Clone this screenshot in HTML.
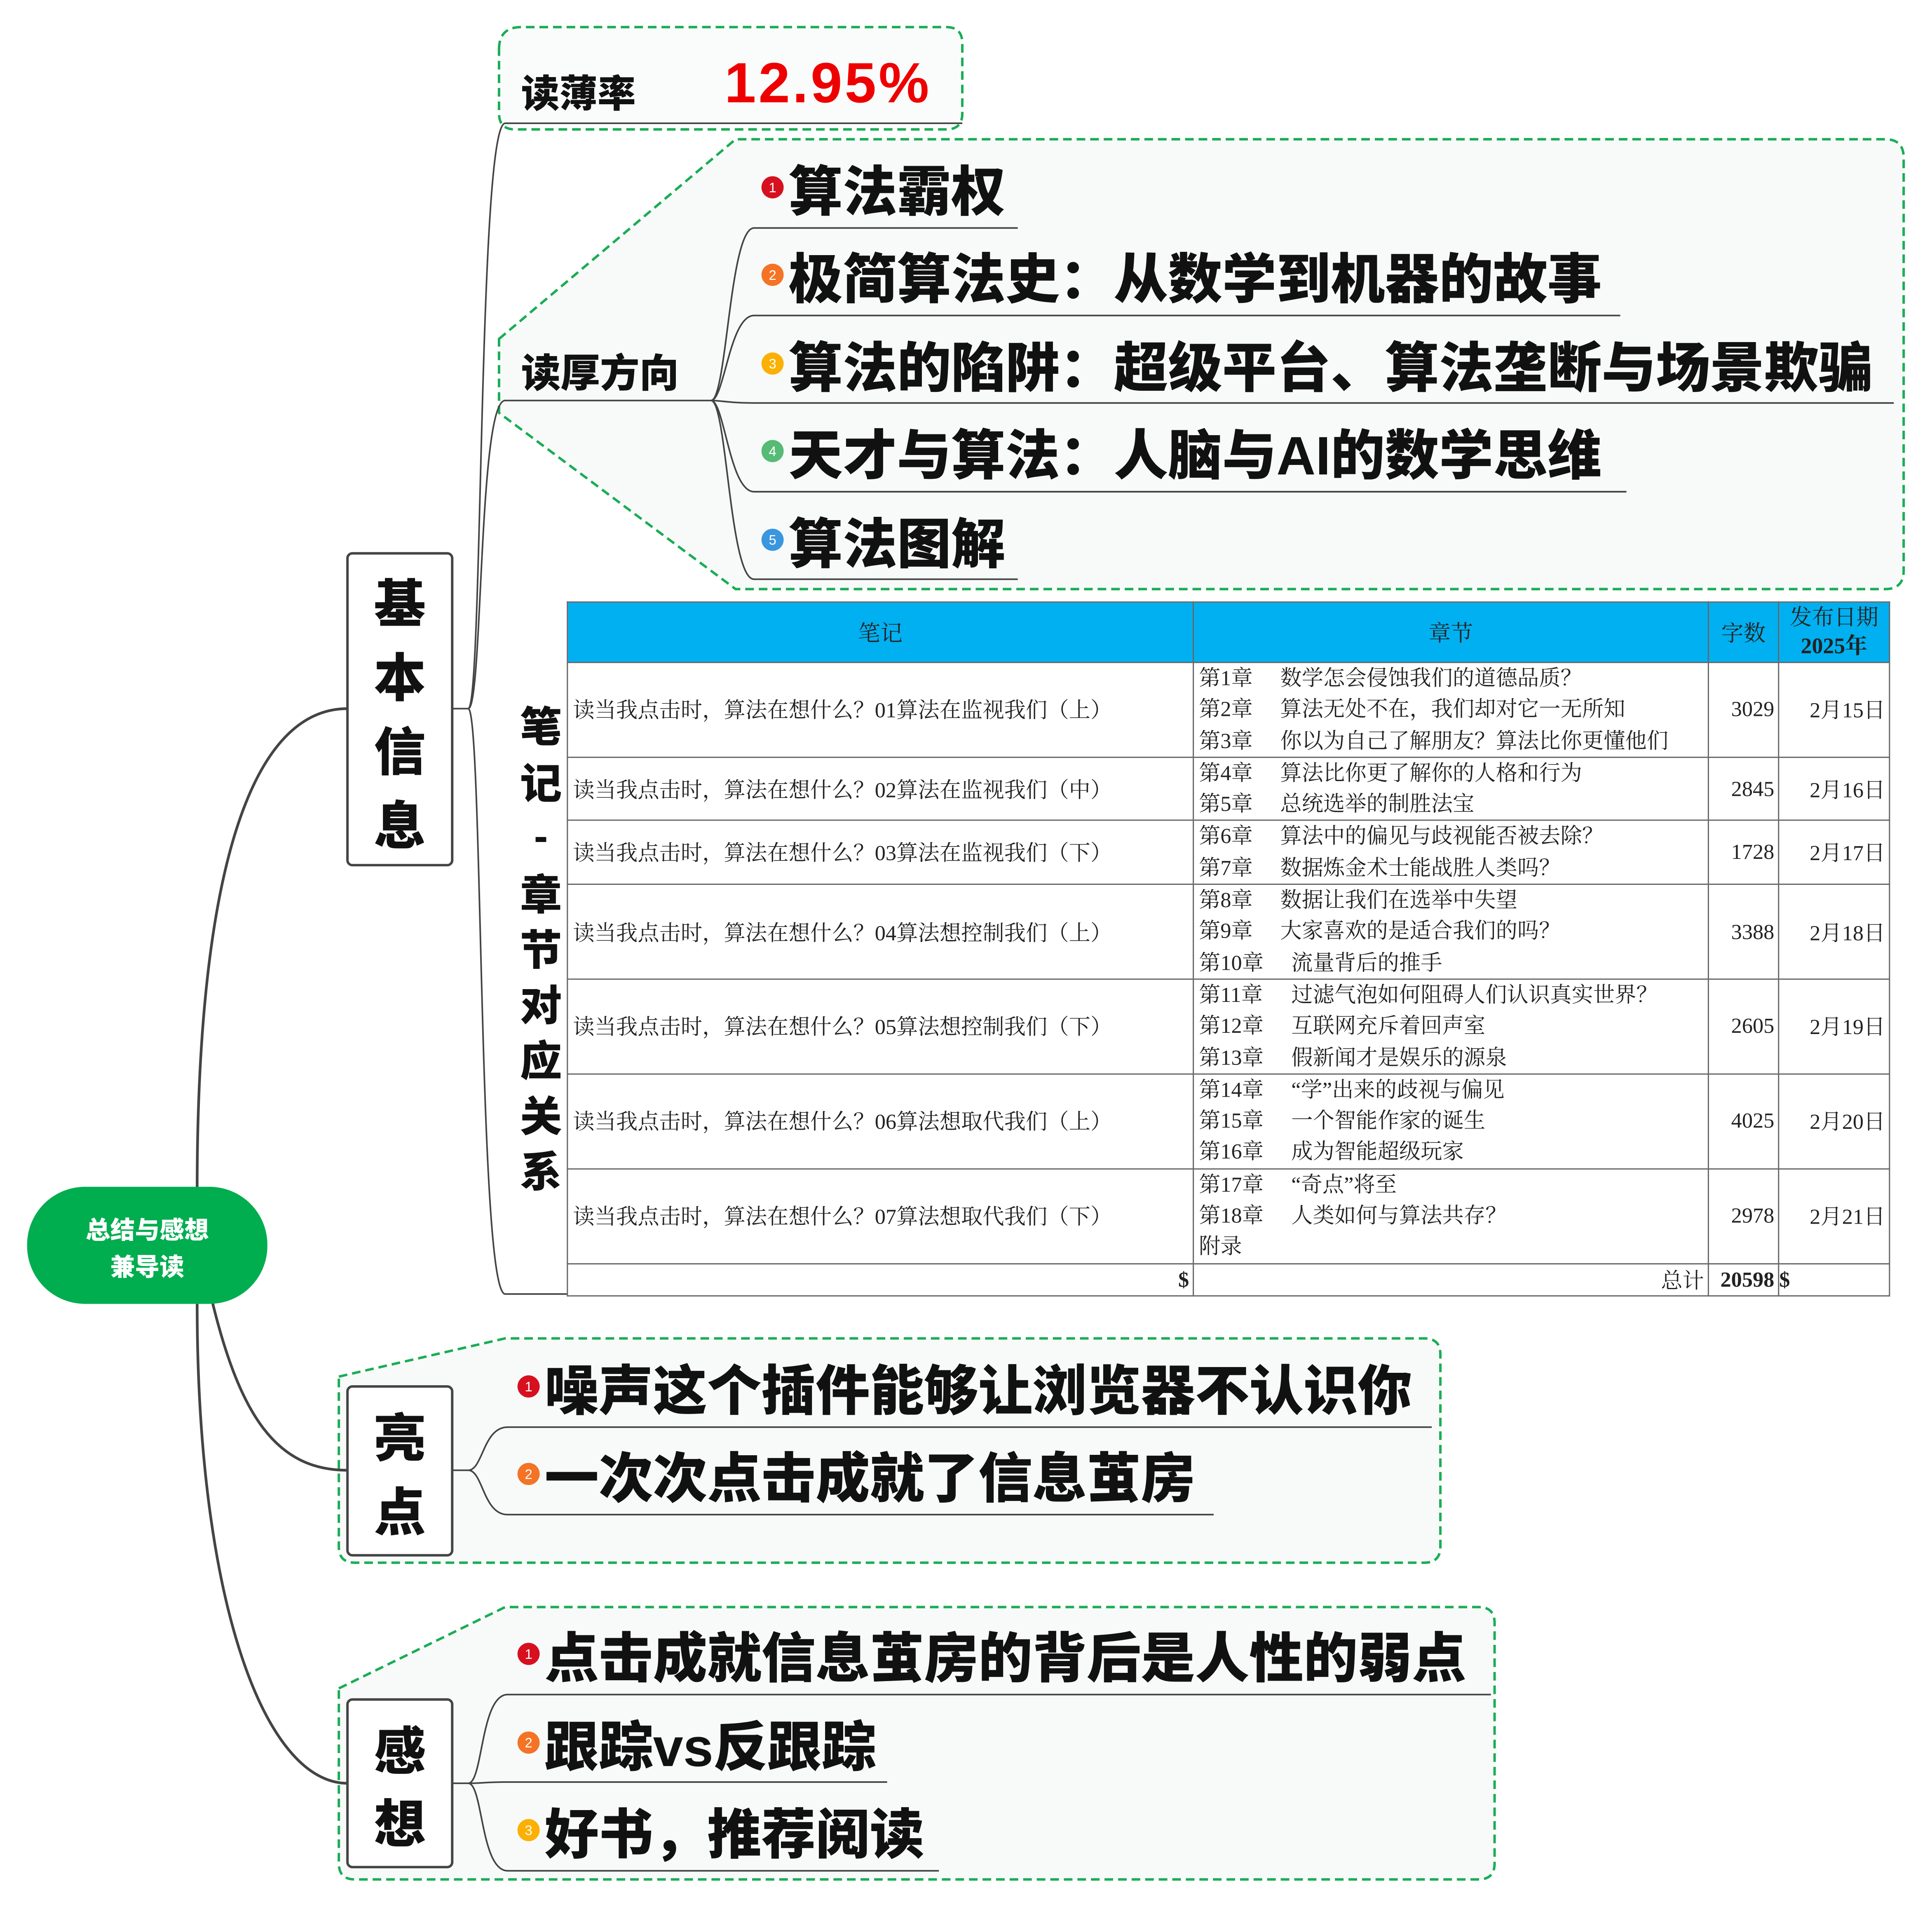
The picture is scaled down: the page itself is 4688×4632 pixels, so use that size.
<!DOCTYPE html>
<html><head><meta charset="utf-8">
<style>
html,body{margin:0;padding:0;background:#fff;}
#wrap{position:absolute;left:0;top:0;width:1568px;height:1549px;transform:scale(2.9898,2.9903);transform-origin:0 0;overflow:hidden;background:#fff;}
svg{position:absolute;left:0;top:0;}
.cjk{font-family:"Liberation Sans","Noto Sans CJK SC",sans-serif;}
table{position:absolute;left:460px;top:488px;border-collapse:collapse;font-family:"Liberation Serif","Noto Serif CJK SC",serif;font-size:17.5px;color:#222;table-layout:fixed;}
td{border:1px solid #666;padding:0;white-space:nowrap;overflow:hidden;vertical-align:middle;}
th{background:#00b0f0;border:1px solid #666;font-weight:normal;font-size:18px;color:#222;padding:0;}
td.n{padding-left:4px;}
td.c{padding-left:4px;line-height:25.3px;}
td.r{text-align:right;padding-right:3px;}
.k{display:inline-block;width:66px;}
.k2{display:inline-block;width:75px;}
</style></head><body>
<div id="wrap">
<svg width="1568" height="1549" viewBox="0 0 1568 1549" class="cjk">
 <path d="M405,40 Q405,22 423,22 L768,22 Q781,22 781,35 L781,92 Q781,105 768,105 L418,105 Q405,105 405,92 Z" fill="#fafcfb" stroke="#1aad55" stroke-width="2" stroke-dasharray="7,4"/>
 <path d="M405,275 L597,113 L1530,113 Q1545,113 1545,128 L1545,463 Q1545,478 1530,478 L597,478 L405,335 Z" fill="#f7faf9" stroke="#1aad55" stroke-width="2" stroke-dasharray="7,4"/>
 <path d="M275,1117 L410,1086 L1156,1086 Q1169,1086 1169,1099 L1169,1255 Q1169,1268 1156,1268 L288,1268 Q275,1268 275,1255 Z" fill="#f7faf9" stroke="#1aad55" stroke-width="2" stroke-dasharray="7,4"/>
 <path d="M275,1370 L410,1304 L1200,1304 Q1213,1304 1213,1317 L1213,1512 Q1213,1525 1200,1525 L288,1525 Q275,1525 275,1512 Z" fill="#f7faf9" stroke="#1aad55" stroke-width="2" stroke-dasharray="7,4"/>

 <g fill="none" stroke="#444" stroke-width="2.2">
  <path d="M160,965 C160,720 200,575 282,575"/>
  <path d="M172,1055 C195,1150 225,1193 282,1193"/>
  <path d="M160,1058 C160,1300 215,1447 282,1447"/>
 </g>
 <g fill="none" stroke="#444" stroke-width="1.3">
  <path d="M367,575 L380,575 C392,575 388,100 410,100 L781,100"/>
  <path d="M380,575 C392,575 388,325 410,325 L577,325"/>
  <path d="M380,575 C392,575 388,1050 410,1050 L460,1050"/>
  <path d="M577,325 C590,325 592,185 612,185 L826,185"/>
  <path d="M577,325 C588,325 592,256 612,256 L1315,256"/>
  <path d="M577,325 C585,325 592,327 612,327 L1537,327"/>
  <path d="M577,325 C588,325 592,399 612,399 L1320,399"/>
  <path d="M577,325 C590,325 592,470 612,470 L826,470"/>
  <path d="M367,1193 L380,1193 C392,1193 392,1158 412,1158 L1162,1158"/>
  <path d="M380,1193 C392,1193 392,1229 412,1229 L985,1229"/>
  <path d="M367,1447 L380,1447 C392,1447 390,1375 412,1375 L1210,1375"/>
  <path d="M380,1447 C392,1447 392,1446 412,1446 L720,1446"/>
  <path d="M380,1447 C392,1447 390,1518 412,1518 L762,1518"/>
 </g>

 <rect x="22" y="963" width="195" height="95" rx="47" fill="#00ad4f"/>
 <text x="119.5" y="1005" font-size="20" font-weight="900" fill="#fff" text-anchor="middle">总结与感想</text>
 <text x="119.5" y="1035" font-size="20" font-weight="900" fill="#fff" text-anchor="middle">兼导读</text>

 <g fill="#fff" stroke="#444" stroke-width="2">
  <rect x="282" y="449" width="85" height="253" rx="4"/>
  <rect x="282" y="1125" width="85" height="137" rx="4"/>
  <rect x="282" y="1379" width="85" height="136" rx="4"/>
 </g>
 <g font-size="42" font-weight="900" fill="#111" text-anchor="middle">
  <text x="324.5" y="505">基</text><text x="324.5" y="565">本</text><text x="324.5" y="625">信</text><text x="324.5" y="685">息</text>
  <text x="324.5" y="1182">亮</text><text x="324.5" y="1242">点</text>
  <text x="324.5" y="1436">感</text><text x="324.5" y="1495">想</text>
 </g>

 <text x="423" y="87" font-size="31" font-weight="900" fill="#111">读薄率</text>
 <text x="588" y="83" font-size="46" font-weight="900" fill="#e00" letter-spacing="2" font-family="Liberation Sans,sans-serif">12.95%</text>
 <text x="423" y="314" font-size="32" font-weight="900" fill="#111">读厚方向</text>
 <g font-size="34" font-weight="900" fill="#111" text-anchor="middle">
  <text x="439" y="602">笔</text><text x="439" y="648">记</text><text x="439" y="690">-</text><text x="439" y="738">章</text>
  <text x="439" y="783">节</text><text x="439" y="828">对</text><text x="439" y="873">应</text><text x="439" y="918">关</text><text x="439" y="963">系</text>
 </g>

 <g font-size="11" fill="#fff" text-anchor="middle" font-family="Liberation Sans,sans-serif">
  <circle cx="627" cy="152" r="9" fill="#d7101f"/><text x="627" y="156">1</text>
  <circle cx="627" cy="223" r="9" fill="#f47325"/><text x="627" y="227">2</text>
  <circle cx="627" cy="295" r="9" fill="#fbb003"/><text x="627" y="299">3</text>
  <circle cx="627" cy="366" r="9" fill="#56bb74"/><text x="627" y="370">4</text>
  <circle cx="627" cy="438" r="9" fill="#3a96de"/><text x="627" y="442">5</text>
  <circle cx="429" cy="1125" r="9" fill="#d7101f"/><text x="429" y="1129">1</text>
  <circle cx="429" cy="1196" r="9" fill="#f47325"/><text x="429" y="1200">2</text>
  <circle cx="429" cy="1342" r="9" fill="#d7101f"/><text x="429" y="1346">1</text>
  <circle cx="429" cy="1414" r="9" fill="#f47325"/><text x="429" y="1418">2</text>
  <circle cx="429" cy="1485" r="9" fill="#fbb003"/><text x="429" y="1489">3</text>
 </g>
 <g font-size="44" font-weight="900" fill="#111">
  <text x="640" y="171">算法霸权</text>
  <text x="640" y="242">极简算法史：从数学到机器的故事</text>
  <text x="640" y="314">算法的陷阱：超级平台、算法垄断与场景欺骗</text>
  <text x="640" y="385">天才与算法：人脑与AI的数学思维</text>
  <text x="640" y="457">算法图解</text>
  <text x="442" y="1144">噪声这个插件能够让浏览器不认识你</text>
  <text x="442" y="1215">一次次点击成就了信息茧房</text>
  <text x="442" y="1361">点击成就信息茧房的背后是人性的弱点</text>
  <text x="442" y="1433">跟踪vs反跟踪</text>
  <text x="442" y="1504">好书，推荐阅读</text>
 </g>
</svg>

<table>
<colgroup><col style="width:508px"><col style="width:418px"><col style="width:57px"><col style="width:90px"></colgroup>
<tr style="height:49px"><th>笔记</th><th>章节</th><th>字数</th><th style="line-height:23px">发布日期<br><b>2025年</b></th></tr>
<tr style="height:76px"><td class="n">读当我点击时，算法在想什么？01算法在监视我们（上）</td><td class="c"><span class="k">第1章</span>数学怎会侵蚀我们的道德品质？<br><span class="k">第2章</span>算法无处不在，我们却对它一无所知<br><span class="k">第3章</span>你以为自己了解朋友？算法比你更懂他们</td><td class="r">3029</td><td class="r">2月15日</td></tr>
<tr style="height:50px"><td class="n">读当我点击时，算法在想什么？02算法在监视我们（中）</td><td class="c"><span class="k">第4章</span>算法比你更了解你的人格和行为<br><span class="k">第5章</span>总统选举的制胜法宝</td><td class="r">2845</td><td class="r">2月16日</td></tr>
<tr style="height:50px"><td class="n">读当我点击时，算法在想什么？03算法在监视我们（下）</td><td class="c"><span class="k">第6章</span>算法中的偏见与歧视能否被去除？<br><span class="k">第7章</span>数据炼金术士能战胜人类吗？</td><td class="r">1728</td><td class="r">2月17日</td></tr>
<tr style="height:76px"><td class="n">读当我点击时，算法在想什么？04算法想控制我们（上）</td><td class="c"><span class="k">第8章</span>数据让我们在选举中失望<br><span class="k">第9章</span>大家喜欢的是适合我们的吗？<br><span class="k2">第10章</span>流量背后的推手</td><td class="r">3388</td><td class="r">2月18日</td></tr>
<tr style="height:75px"><td class="n">读当我点击时，算法在想什么？05算法想控制我们（下）</td><td class="c"><span class="k2">第11章</span>过滤气泡如何阻碍人们认识真实世界？<br><span class="k2">第12章</span>互联网充斥着回声室<br><span class="k2">第13章</span>假新闻才是娱乐的源泉</td><td class="r">2605</td><td class="r">2月19日</td></tr>
<tr style="height:76px"><td class="n">读当我点击时，算法在想什么？06算法想取代我们（上）</td><td class="c"><span class="k2">第14章</span>“学”出来的歧视与偏见<br><span class="k2">第15章</span>一个智能作家的诞生<br><span class="k2">第16章</span>成为智能超级玩家</td><td class="r">4025</td><td class="r">2月20日</td></tr>
<tr style="height:75px"><td class="n">读当我点击时，算法在想什么？07算法想取代我们（下）</td><td class="c"><span class="k2">第17章</span>“奇点”将至<br><span class="k2">第18章</span>人类如何与算法共存？<br>附录</td><td class="r">2978</td><td class="r">2月21日</td></tr>
<tr style="height:24px"><td class="r"><b>$</b></td><td class="r">总计</td><td class="r"><b>20598</b></td><td><b>$</b></td></tr>
</table>
</div>
</body></html>
